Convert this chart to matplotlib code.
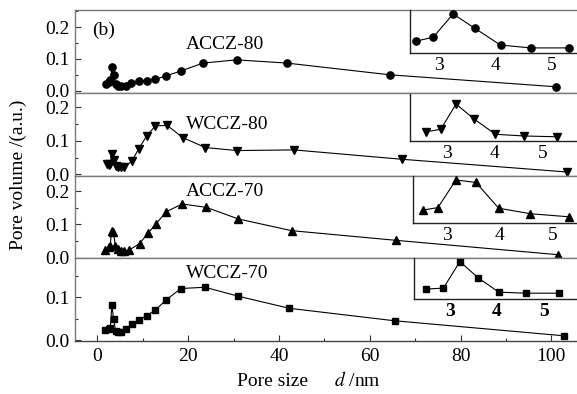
import matplotlib
matplotlib.use("Agg")
import matplotlib.pyplot as plt
from matplotlib.ticker import MultipleLocator

plt.rcParams['font.family'] = ['Liberation Serif', 'DejaVu Serif']
plt.rcParams['mathtext.fontset'] = 'stix'

W, H = 577, 394

# ---------------- data ----------------
labels = ["ACCZ-80", "WCCZ-80", "ACCZ-70", "WCCZ-70"]
markers = ["o", "v", "^", "s"]

accz80_x = [2.0, 2.6, 2.9, 3.25, 3.63, 4.09, 4.63, 5.3, 6.4, 7.4, 9.1, 10.9, 12.8, 15.2, 18.4, 23.3, 30.7, 41.7, 64.5, 101.1]
accz80_y = [0.021, 0.027, 0.034, 0.075, 0.050, 0.020, 0.015, 0.015, 0.016, 0.024, 0.031, 0.032, 0.036, 0.047, 0.062, 0.087, 0.097, 0.087, 0.050, 0.0125]

wccz80_x = [2.1, 2.57, 2.87, 3.19, 3.57, 4.01, 4.6, 5.3, 5.9, 7.6, 9.1, 10.9, 12.8, 15.4, 18.8, 23.8, 30.8, 43.3, 67.1, 103.4]
wccz80_y = [0.032, 0.028, 0.031, 0.061, 0.043, 0.025, 0.023, 0.022, 0.022, 0.039, 0.076, 0.115, 0.145, 0.146, 0.110, 0.080, 0.071, 0.073, 0.045, 0.007]

accz70_x = [1.8, 2.55, 2.83, 3.17, 3.55, 3.98, 4.58, 5.31, 5.9, 6.9, 9.3, 11.2, 12.9, 15.2, 18.7, 24.0, 31.1, 42.8, 65.8, 101.4]
accz70_y = [0.024, 0.032, 0.036, 0.081, 0.077, 0.035, 0.026, 0.021, 0.021, 0.022, 0.042, 0.074, 0.101, 0.138, 0.161, 0.151, 0.116, 0.081, 0.052, 0.009]

wccz70_x = [1.7, 2.49, 2.86, 3.21, 3.60, 4.04, 4.61, 5.32, 6.4, 7.6, 9.1, 10.9, 12.8, 15.1, 18.4, 23.7, 31.1, 42.3, 65.5, 102.9]
wccz70_y = [0.023, 0.027, 0.029, 0.081, 0.049, 0.021, 0.019, 0.019, 0.027, 0.037, 0.047, 0.057, 0.070, 0.093, 0.120, 0.123, 0.102, 0.074, 0.045, 0.010]

series_x = [accz80_x, wccz80_x, accz70_x, wccz70_x]
series_y = [accz80_y, wccz80_y, accz70_y, wccz70_y]

inset_first, inset_last = 1, 8   # points shown in the insets
inset_ticks = [3, 4, 5]

# ---------------- layout ----------------
fig = plt.figure(figsize=(W / 100, H / 100), dpi=100)

def rect(l, t, r, b):
    return [l / W, 1 - b / H, (r - l) / W, (b - t) / H]

bounds = [10, 93, 176, 258, 341]
ylims = [(-0.007, 0.2535), (-0.005, 0.243), (-0.001, 0.245), (-0.002, 0.191)]
ymajor = [[0.0, 0.1, 0.2], [0.0, 0.1, 0.2], [0.0, 0.1, 0.2], [0.0, 0.1]]
label_pos = [0.144, 0.148, 0.197, 0.156]
xlim = ((75 - 97.3) / 4.54, (579 - 97.3) / 4.54)

inset_rects = [(410, 10, 579, 53), (410, 94, 579, 141), (413.3, 176, 579, 223.3), (414, 258, 579, 299.3)]
inset_xlims = [(2.487, 5.48), (2.23, 5.75), (2.364, 5.50), (2.234, 5.745)]
inset_ylims = [(0.006, 0.082), (0.017, 0.073), (0.0104, 0.0875), (0.007, 0.088)]

spine_col = '#7a7a7a'
fs = 14

for i in range(4):
    ax = fig.add_axes(rect(75, bounds[i], 579, bounds[i + 1]))
    ax.plot(series_x[i], series_y[i], color='black', lw=0.8, marker=markers[i],
            ms=5.2 if markers[i] != 's' else 4.7, mfc='black', mec='black')
    ax.set_xlim(*xlim)
    ax.set_ylim(*ylims[i])
    ax.set_yticks(ymajor[i])
    ax.set_yticklabels([f"{v:.1f}" for v in ymajor[i]])
    ax.yaxis.set_minor_locator(MultipleLocator(0.05))
    ax.tick_params(axis='y', which='major', direction='in', length=4, width=0.8,
                   labelsize=fs, pad=4, colors='#333333', labelcolor='black')
    ax.tick_params(axis='y', which='minor', direction='in', length=2.5, width=0.8, colors='#333333')
    for s in ax.spines.values():
        s.set_color(spine_col)
        s.set_linewidth(1.0)
    ax.spines['right'].set_visible(False)
    if i < 3:
        ax.tick_params(axis='x', which='both', bottom=False, labelbottom=False)
    else:
        ax.xaxis.set_major_locator(MultipleLocator(20))
        ax.xaxis.set_minor_locator(MultipleLocator(10))
        ax.tick_params(axis='x', which='major', direction='in', length=4, width=0.8,
                       labelsize=fs, pad=5, colors='#333333', labelcolor='black')
        ax.tick_params(axis='x', which='minor', direction='in', length=2.5, width=0.8, colors='#333333')
        ax.spines['bottom'].set_color('#444444')
    ax.text(19.6, label_pos[i], labels[i], fontsize=fs, va='center', ha='left')
    if i == 0:
        ax.text(0.034, 0.76, "(b)", transform=ax.transAxes, fontsize=fs, va='center', ha='left')

    # inset
    l, t, r, b = inset_rects[i]
    ia = fig.add_axes(rect(l, t, r, b))
    ia.patch.set_alpha(0)
    ia.plot(series_x[i][inset_first:inset_last], series_y[i][inset_first:inset_last],
            color='black', lw=0.8, marker=markers[i],
            ms=5.2 if markers[i] != 's' else 4.7, mfc='black', mec='black')
    ia.set_xlim(*inset_xlims[i])
    ia.set_ylim(*inset_ylims[i])
    ia.set_xticks(inset_ticks)
    ia.set_xticklabels([str(v) for v in inset_ticks],
                       fontweight='bold' if i == 3 else 'normal')
    ia.set_yticks([])
    ia.tick_params(axis='x', length=0, labelsize=fs, pad=3)
    for s in ['top', 'right']:
        ia.spines[s].set_visible(False)
    for s in ['left', 'bottom']:
        ia.spines[s].set_color('#222222')
        ia.spines[s].set_linewidth(1.0)

fig.text(237 / W, 1 - 381 / H, "Pore size", fontsize=fs, ha='left', va='center')
fig.text(334 / W, 1 - 381 / H, r"$d$ /nm", fontsize=fs, ha='left', va='center')
fig.text(18 / W, 1 - 175 / H, "Pore volume /(a.u.)", fontsize=fs, rotation=90,
         ha='center', va='center')

fig.savefig("out.png", dpi=100)
